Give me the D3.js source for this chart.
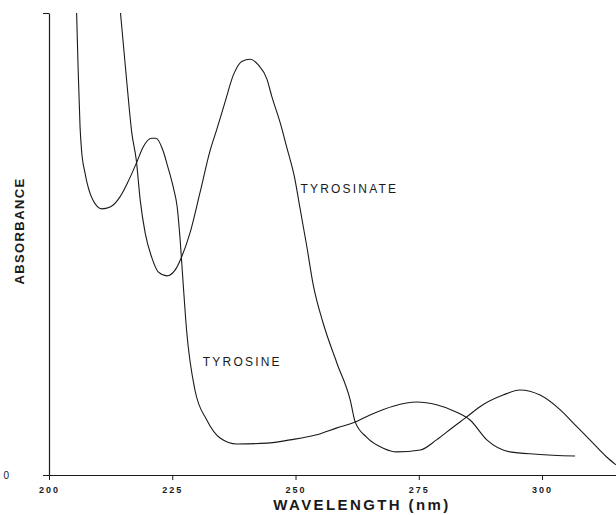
<!DOCTYPE html>
<html>
<head>
<meta charset="utf-8">
<script src="https://cdn.jsdelivr.net/npm/d3@7"></script>
<style>
  html, body { margin: 0; padding: 0; background: #fff; }
  svg { display: block; font-family: "Liberation Sans", Arial, sans-serif; }
</style>
</head>
<body>
<svg id="chart" width="616" height="515"></svg>
<script>
// ---- data (wavelength in nm, absorbance in arbitrary units) ----
const tyrosineWavelength = [205.6, 205.9, 206.3, 206.6, 207.3, 208.9, 210.7, 212.4, 214.4, 216.0, 217.8, 219.1, 220.8, 221.7, 223.1, 224.1, 225.2, 226.0, 226.6, 227.2, 227.9, 229.6, 232.0, 234.7, 238.1, 244.2, 248.9, 254.3, 258.4, 261.7, 265.1, 269.8, 274.6, 278.6, 282.7, 285.4, 288.8, 293.5, 298.9, 306.7];
const tyrosineAbsorbance = [1.000, 0.883, 0.753, 0.703, 0.654, 0.595, 0.576, 0.580, 0.602, 0.634, 0.677, 0.710, 0.729, 0.729, 0.703, 0.667, 0.623, 0.580, 0.509, 0.416, 0.314, 0.184, 0.119, 0.080, 0.067, 0.069, 0.076, 0.087, 0.102, 0.113, 0.130, 0.149, 0.158, 0.152, 0.136, 0.119, 0.076, 0.050, 0.045, 0.041];

const tyrosinateWavelength = [214.5, 215.8, 216.8, 217.7, 218.5, 219.5, 220.8, 222.2, 223.9, 225.6, 226.9, 228.6, 230.6, 232.7, 234.0, 235.7, 237.4, 239.1, 240.8, 242.5, 244.2, 245.2, 246.9, 248.2, 249.9, 250.9, 252.3, 253.6, 255.6, 258.4, 261.1, 262.1, 264.4, 267.8, 270.5, 275.3, 278.6, 282.0, 284.4, 288.0, 292.1, 295.5, 299.6, 303.7, 306.3, 309.7, 313.1, 315.0];
const tyrosinateAbsorbance = [1.000, 0.848, 0.740, 0.682, 0.595, 0.524, 0.472, 0.439, 0.431, 0.444, 0.472, 0.524, 0.610, 0.703, 0.747, 0.807, 0.866, 0.895, 0.900, 0.887, 0.857, 0.819, 0.762, 0.710, 0.639, 0.578, 0.494, 0.411, 0.329, 0.242, 0.162, 0.115, 0.082, 0.058, 0.050, 0.054, 0.076, 0.104, 0.123, 0.152, 0.173, 0.184, 0.173, 0.141, 0.113, 0.076, 0.039, 0.022];

const xTickValues = [200, 225, 250, 275, 300];
const yTickValues = [0, 1];
const seriesLabels = ["TYROSINE", "TYROSINATE"];
const labelAnchors = [[231.2, 0.236], [251.0, 0.61]]; // (nm, absorbance) where labels sit

// ---- layout ----
const svg = d3.select("#chart");
const x = d3.scaleLinear().domain([200, 315]).range([49, 616]);
const y = d3.scaleLinear().domain([0, 1]).range([475, 13]);
const ink = "#1a1a1a";

// x axis
const xAxis = d3.axisBottom(x)
  .tickValues(xTickValues)
  .tickSizeInner(5)
  .tickSizeOuter(0)
  .tickFormat(d3.format("d"));
const gx = svg.append("g").attr("transform", `translate(0,${y(0)})`).call(xAxis);
gx.select(".domain").attr("stroke", ink).attr("stroke-width", 1);
gx.selectAll(".tick line").attr("stroke", ink);
gx.selectAll(".tick text")
  .attr("fill", ink)
  .attr("y", 18)
  .attr("dy", null)
  .attr("font-size", 9)
  .attr("font-weight", "bold")
  .attr("letter-spacing", "2px")
  .attr("dx", "0px");

// y axis
const yAxis = d3.axisLeft(y)
  .tickValues(yTickValues)
  .tickSizeInner(6)
  .tickSizeOuter(0)
  .tickPadding(34)
  .tickFormat(d => d === 0 ? "0" : "");
const gy = svg.append("g").attr("transform", `translate(${x(200)},0)`).call(yAxis);
gy.select(".domain").attr("stroke", ink).attr("stroke-width", 1.2);
gy.selectAll(".tick line").attr("stroke", ink);
gy.selectAll(".tick text").attr("fill", ink).attr("font-size", 10);

// axis titles
svg.append("text")
  .attr("x", 362).attr("y", 510)
  .attr("text-anchor", "middle")
  .attr("font-size", 15).attr("font-weight", "bold")
  .attr("letter-spacing", "2.4px")
  .attr("fill", ink)
  .text("WAVELENGTH (nm)");

svg.append("text")
  .attr("transform", "translate(24,231) rotate(-90)")
  .attr("text-anchor", "middle")
  .attr("font-size", 13).attr("font-weight", "bold")
  .attr("letter-spacing", "1.4px")
  .attr("fill", ink)
  .text("ABSORBANCE");

// curves
const line = d3.line()
  .x(d => x(d[0]))
  .y(d => y(d[1]))
  .curve(d3.curveMonotoneX);

const series = [
  d3.zip(tyrosineWavelength, tyrosineAbsorbance),
  d3.zip(tyrosinateWavelength, tyrosinateAbsorbance)
];

svg.append("g").selectAll("path")
  .data(series)
  .join("path")
  .attr("d", line)
  .attr("fill", "none")
  .attr("stroke", ink)
  .attr("stroke-width", 1.1);

// series labels
svg.append("g").selectAll("text")
  .data(seriesLabels)
  .join("text")
  .attr("x", (d, i) => x(labelAnchors[i][0]))
  .attr("y", (d, i) => y(labelAnchors[i][1]))
  .attr("font-size", 12)
  .attr("letter-spacing", "2.2px")
  .attr("fill", ink)
  .text(d => d);
</script>
</body>
</html>
